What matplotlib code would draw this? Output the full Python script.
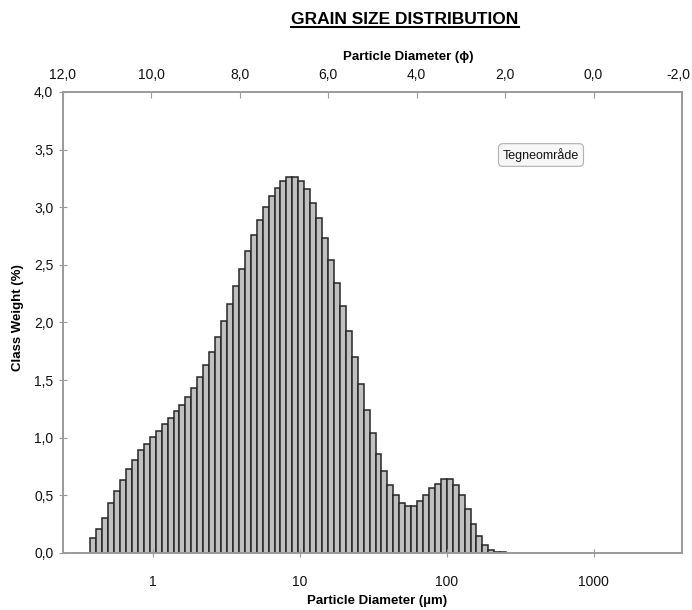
import numpy as np
import matplotlib.pyplot as plt
import matplotlib.transforms as mtransforms
from matplotlib.ticker import FuncFormatter, FixedLocator, NullLocator
from matplotlib.lines import Line2D

plt.rcParams['font.family'] = ['Liberation Sans', 'DejaVu Sans']
LABEL_FONT = ['Liberation Sans Narrow', 'Liberation Sans', 'DejaVu Sans']

# class weights (%) for 70 laser-diffraction channels, first channel starts at 0.375 um
first_edge_um = 0.375
channel_ratio = 1.0976
class_weight = [
    0.13, 0.21, 0.30, 0.43, 0.54, 0.63, 0.725, 0.81, 0.89, 0.95,
    1.01, 1.06, 1.12, 1.17, 1.23, 1.285, 1.35, 1.43, 1.525, 1.63,
    1.745, 1.87, 2.01, 2.16, 2.32, 2.46, 2.62, 2.76, 2.89, 3.00,
    3.10, 3.17, 3.23, 3.26, 3.26, 3.23, 3.16, 3.04, 2.91, 2.73,
    2.545, 2.345, 2.14, 1.93, 1.70, 1.465, 1.24, 1.04, 0.86, 0.715,
    0.59, 0.50, 0.435, 0.41, 0.41, 0.45, 0.505, 0.56, 0.60, 0.64,
    0.64, 0.59, 0.505, 0.385, 0.255, 0.15, 0.07, 0.022, 0.006, 0.006,
]
um_ticks = [1, 10, 100, 1000]
phi_ticks = [12, 10, 8, 6, 4, 2, 0, -2]
y_ticks = [0, 0.5, 1.0, 1.5, 2.0, 2.5, 3.0, 3.5, 4.0]

edges = first_edge_um * channel_ratio ** np.arange(len(class_weight) + 1)

W, H = 692, 610
fig = plt.figure(figsize=(W / 100, H / 100), dpi=100)
ax = fig.add_axes([63 / W, 57 / H, 619 / W, 461 / H])

ax.bar(edges[:-1], class_weight, width=np.diff(edges), align='edge',
       color='#c0c0c0', edgecolor='#262626', linewidth=1.1)

ax.set_xscale('log')
ax.set_xlim(1000 * 2.0 ** -12, 1000 * 2.0 ** 2)
ax.set_ylim(0, 4)
ax.xaxis.set_major_locator(FixedLocator(um_ticks))
ax.xaxis.set_minor_locator(NullLocator())
ax.xaxis.set_major_formatter(FuncFormatter(lambda v, p: f"{v:g}"))
ax.yaxis.set_major_locator(FixedLocator(y_ticks))
ax.yaxis.set_major_formatter(FuncFormatter(lambda v, p: f"{v:.1f}".replace('.', ',')))

for s in ax.spines.values():
    s.set_color('#9a9a9a')
    s.set_linewidth(1.2)
ax.tick_params(axis='x', direction='inout', length=6, color='#9a9a9a', pad=13,
               labelsize=10, labelcolor='#111111')
ax.tick_params(axis='y', direction='inout', length=6, color='#9a9a9a', pad=4,
               labelsize=10, labelcolor='#111111')

# phi scale on top
ax2 = ax.twiny()
ax2.set_xlim(12, -2)
ax2.xaxis.set_major_locator(FixedLocator(phi_ticks))
ax2.xaxis.set_minor_locator(NullLocator())
ax2.xaxis.set_major_formatter(FuncFormatter(lambda v, p: f"{v:.1f}".replace('.', ',')))
ax2.tick_params(axis='x', direction='in', length=4, color='#9a9a9a', pad=7,
                labelsize=10, labelcolor='#111111')
for s in ax2.spines.values():
    s.set_color('#9a9a9a')
    s.set_linewidth(1.2)

fig.text(377 / W, 1 - 601 / H, 'Particle Diameter (\u00b5m)', ha='center', va='center',
         fontsize=9.5, fontweight='bold', family=LABEL_FONT)
fig.text(18 / W, 1 - 318 / H, 'Class Weight (%)', ha='center', va='center',
         rotation=90, fontsize=9.5, fontweight='bold', family=LABEL_FONT)
fig.text(408 / W, 1 - 57 / H, 'Particle Diameter (\u03d5)', ha='center', va='center',
         fontsize=9.5, fontweight='bold', family=LABEL_FONT)

title = fig.text(405 / W, 1 - 20 / H, 'GRAIN SIZE DISTRIBUTION', ha='center',
                 va='center', fontsize=12.5, fontweight='bold', family=LABEL_FONT)

fig.text(541 / W, 1 - 155 / H, 'Tegneomr\u00e5de', ha='center', va='center',
         fontsize=9, color='#111111',
         bbox=dict(boxstyle='round,pad=0.35', facecolor='#f7f7f7',
                   edgecolor='#b0b0b0', linewidth=0.8))

# keep the last phi label inside the picture
fig.canvas.draw()
last_lbl = ax2.xaxis.get_majorticklabels()[-1]
last_lbl.set_transform(last_lbl.get_transform() +
                       mtransforms.ScaledTranslation(-4 / 100, 0, fig.dpi_scale_trans))

# underline the title
bb = title.get_window_extent().transformed(fig.transFigure.inverted())
fig.add_artist(Line2D([bb.x0, bb.x1], [bb.y0 + 0.001, bb.y0 + 0.001],
                      transform=fig.transFigure, color='black', linewidth=1.5))

fig.savefig('out.png', dpi=100)
